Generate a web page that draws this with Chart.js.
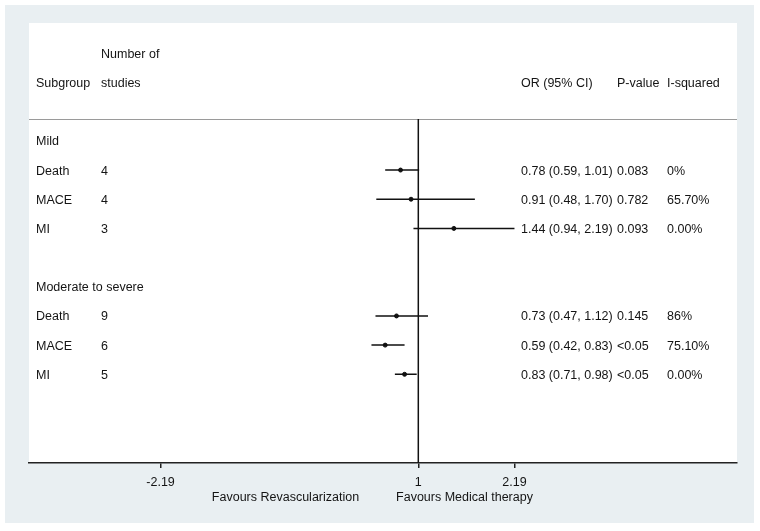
<!DOCTYPE html>
<html>
<head>
<meta charset="utf-8">
<script src="https://cdn.jsdelivr.net/npm/chart.js@4"></script>
<style>
  html, body { margin: 0; padding: 0; background: #ffffff; }
  #wrap { width: 760px; height: 531px; }
</style>
</head>
<body>
<div id="wrap"><canvas id="forest" width="760" height="531"></canvas></div>
<script>
// subgroup headings and the rows they sit on
const groups = ['Mild', 'Moderate to severe'];
const groupRows = [0, 5];

// one entry per outcome row
const outcomes = ['Death', 'MACE', 'MI', 'Death', 'MACE', 'MI'];
const outcomeRows = [1, 2, 3, 6, 7, 8];
const studies = [4, 4, 3, 9, 6, 5];
const orValues = [0.78, 0.91, 1.44, 0.73, 0.59, 0.83];
const ciLow = [0.59, 0.48, 0.94, 0.47, 0.42, 0.71];
const ciHigh = [1.01, 1.70, 2.19, 1.12, 0.83, 0.98];
const pValues = ['0.083', '0.782', '0.093', '0.145', '<0.05', '<0.05'];
const iSquared = ['0%', '65.70%', '0.00%', '86%', '75.10%', '0.00%'];

const xTicks = [-2.19, 1, 2.19];
const refValue = 1;
const favourLabels = ['Favours Revascularization', 'Favours Medical therapy'];

const FONT = '"Liberation Sans", Arial, sans-serif';
const INK = '#141414';

// CI segments, broken with nulls between rows
var ciData = [];
for (var i = 0; i < orValues.length; i++) {
  ciData.push({ x: ciLow[i], y: outcomeRows[i] });
  ciData.push({ x: ciHigh[i], y: outcomeRows[i] });
  ciData.push({ x: null, y: null });
}

var pointData = orValues.map(function (v, i) {
  return { x: v, y: outcomeRows[i] };
});

// panel backgrounds + header rule
const panelPlugin = {
  id: 'panel',
  beforeDraw: function (chart) {
    var ctx = chart.ctx;
    var a = chart.chartArea;
    var y = chart.scales.y;
    ctx.save();
    ctx.fillStyle = '#ffffff';
    ctx.fillRect(0, 0, chart.width, chart.height);
    ctx.fillStyle = '#e9eff2';
    ctx.fillRect(5, 5, 749, 518);
    ctx.fillStyle = '#ffffff';
    ctx.fillRect(a.left, a.top, a.right - a.left, a.bottom - a.top);
    // rule under the header
    var ry = Math.round(y.getPixelForValue(-0.75)) + 0.5;
    ctx.strokeStyle = '#9a9a9a';
    ctx.lineWidth = 1;
    ctx.beginPath();
    ctx.moveTo(a.left, ry);
    ctx.lineTo(a.right, ry);
    ctx.stroke();
    ctx.restore();
  }
};

// table text
const tablePlugin = {
  id: 'table',
  afterDraw: function (chart) {
    var ctx = chart.ctx;
    var a = chart.chartArea;
    var y = chart.scales.y;
    var col1 = a.left + 7, col2 = a.left + 72, col3 = a.left + 492, col4 = a.left + 588, col5 = a.left + 638;
    function rowY(r) { return y.getPixelForValue(r) + 1; }
    ctx.save();
    ctx.fillStyle = INK;
    ctx.font = '12.5px ' + FONT;
    ctx.textBaseline = 'middle';
    ctx.textAlign = 'left';

    ctx.fillText('Number of', col2, rowY(-3));
    ctx.fillText('Subgroup', col1, rowY(-2));
    ctx.fillText('studies', col2, rowY(-2));
    ctx.fillText('OR (95% CI)', col3, rowY(-2));
    ctx.fillText('P-value', col4, rowY(-2));
    ctx.fillText('I-squared', col5, rowY(-2));

    groups.forEach(function (g, i) {
      ctx.fillText(g, col1, rowY(groupRows[i]));
    });
    outcomes.forEach(function (o, i) {
      var ry = rowY(outcomeRows[i]);
      ctx.fillText(o, col1, ry);
      ctx.fillText(String(studies[i]), col2, ry);
      ctx.fillText(orValues[i].toFixed(2) + ' (' + ciLow[i].toFixed(2) + ', ' + ciHigh[i].toFixed(2) + ')', col3, ry);
      ctx.fillText(pValues[i], col4, ry);
      ctx.fillText(iSquared[i], col5, ry);
    });

    // favours labels under the axis
    ctx.textAlign = 'center';
    var ly = a.bottom + 34.5;
    ctx.fillText(favourLabels[0], 285.5, ly);
    ctx.fillText(favourLabels[1], 464.5, ly);
    ctx.restore();
  }
};

new Chart(document.getElementById('forest'), {
  type: 'scatter',
  data: {
    datasets: [
      {
        label: 'Reference',
        type: 'line',
        data: [{ x: refValue, y: -0.75 }, { x: refValue, y: 11.04 }],
        borderColor: '#111111',
        borderWidth: 1.5,
        pointRadius: 0,
        showLine: true
      },
      {
        label: '95% CI',
        type: 'line',
        data: ciData,
        borderColor: '#111111',
        borderWidth: 1.5,
        pointRadius: 0,
        showLine: true,
        spanGaps: false
      },
      {
        label: 'OR',
        data: pointData,
        backgroundColor: '#111111',
        borderColor: '#111111',
        pointRadius: 2,
        pointHoverRadius: 2
      }
    ]
  },
  options: {
    responsive: false,
    animation: false,
    events: [],
    layout: { padding: { left: 29, right: 23, top: 23, bottom: 0 } },
    plugins: {
      legend: { display: false },
      tooltip: { enabled: false }
    },
    scales: {
      x: {
        type: 'linear',
        min: -3.818,
        max: 4.944,
        afterBuildTicks: function (scale) {
          scale.ticks = xTicks.map(function (v) { return { value: v }; });
        },
        afterFit: function (scale) {
          scale.height = 68;
        },
        ticks: {
          color: INK,
          font: { family: FONT, size: 12.5 },
          padding: 7.5,
          maxRotation: 0,
          autoSkip: false,
          callback: function (v) { return String(v); }
        },
        grid: {
          drawOnChartArea: false,
          drawTicks: true,
          tickLength: 5,
          color: '#222222',
          lineWidth: 1.5
        },
        border: { display: true, color: '#222222', width: 1.5 }
      },
      y: {
        type: 'linear',
        display: false,
        reverse: true,
        min: -4.04,
        max: 11.04
      }
    }
  },
  plugins: [panelPlugin, tablePlugin]
});
</script>
</body>
</html>
